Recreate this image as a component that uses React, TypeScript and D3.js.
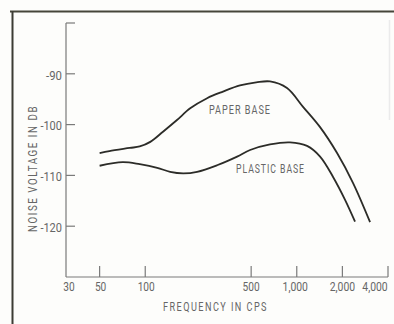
import React from "react";
import * as d3 from "d3";

const paperFreq = [50, 58, 79, 92, 108, 131, 162, 198, 256, 326, 422, 540, 666, 862, 1100, 1425, 1845, 2353, 3046];
const paperDb = [-105.6, -105.2, -104.6, -104.3, -103.4, -101.4, -99.1, -96.8, -94.8, -93.5, -92.3, -91.7, -91.5, -92.8, -96.5, -100.5, -105.6, -111.5, -119.2];
const plasticFreq = [50, 71, 92, 120, 146, 178, 220, 298, 404, 492, 666, 903, 1169, 1425, 1736, 2083, 2424];
const plasticDb = [-108.1, -107.4, -107.8, -108.5, -109.3, -109.6, -109.3, -108.0, -106.3, -105.0, -103.9, -103.5, -104.2, -106.3, -110.3, -114.8, -119.1];

const xTickValues = [30, 50, 100, 500, 1000, 2000, 4000];
const xTickLabels = ["30", "50", "100", "500", "1,000", "2,000", "4,000"];
const yTickValues = [-80, -90, -100, -110, -120];
const yTickLabels = ["", "-90", "-100", "-110", "-120"];

const W = 394;
const H = 324;
const FONT = "Roboto, 'DejaVu Sans', sans-serif";
const TEXT = "#666";
const AXIS = "#7a7a7a";
const INK = "#2c2c28";

// narrow (condensed) text width estimate
const labelWidth = (s: string) =>
  s.split("").reduce((w, c) => w + (c === "-" ? 4.5 : c === "," ? 2.6 : 5.7), 0);

export default function App() {
  const x = d3.scaleLog().domain([30, 4000]).range([66, 388]);
  const y = d3.scaleLinear().domain([-130, -80]).range([277, 23]);
  const line = d3
    .line<[number, number]>()
    .x((d) => x(d[0]))
    .y((d) => y(d[1]))
    .curve(d3.curveCatmullRom.alpha(0.5));
  const paper = line(paperFreq.map((f, i) => [f, paperDb[i]]) as [number, number][]) || "";
  const plastic = line(plasticFreq.map((f, i) => [f, plasticDb[i]]) as [number, number][]) || "";
  const xLabelDx: Record<number, number> = { 30: 3, 50: 1, 100: 1, 500: 0, 1000: -1.5, 2000: 0, 4000: -13 };
  const x0 = x(30);
  const yBottom = y(-130);

  return (
    <svg
      width={W}
      height={H}
      style={{ position: "absolute", left: 0, top: 0, background: "#fdfdfb" }}
      fontFamily={FONT}
    >
      <rect x={0} y={0} width={W} height={H} fill="#fdfdfb" />
      {/* frame */}
      <line x1={10} y1={11.5} x2={W} y2={11.5} stroke="#46463a" strokeWidth={1.8} />
      <line x1={12.5} y1={11} x2={12.5} y2={H} stroke="#3c3c34" strokeWidth={2} />
      <line x1={389.5} y1={20} x2={389.5} y2={120} stroke="#ebebeb" strokeWidth={1.5} />

      {/* y axis */}
      <line x1={x0} y1={y(-80)} x2={x0} y2={yBottom} stroke={AXIS} strokeWidth={1.2} />
      {yTickValues.map((v, i) => (
        <g key={v}>
          <line x1={x0} y1={y(v)} x2={x0 + 9} y2={y(v)} stroke={AXIS} strokeWidth={1.2} />
          {yTickLabels[i] && (
            <text
              x={x0 - 4}
              y={y(v) + 1}
              dy="0.35em"
              textAnchor="end"
              fontSize={13.5}
              fill={TEXT}
              textLength={labelWidth(yTickLabels[i])}
              lengthAdjust="spacingAndGlyphs"
            >
              {yTickLabels[i]}
            </text>
          )}
        </g>
      ))}

      {/* x axis */}
      <line x1={x0} y1={yBottom} x2={x(4000)} y2={yBottom} stroke={AXIS} strokeWidth={1.2} />
      {xTickValues.map((v, i) => (
        <g key={v}>
          {v !== 30 && (
            <line x1={x(v)} y1={yBottom} x2={x(v)} y2={yBottom - 11} stroke={AXIS} strokeWidth={1.2} />
          )}
          <text
            x={x(v) + xLabelDx[v]}
            y={291}
            textAnchor="middle"
            fontSize={13}
            fill={TEXT}
            textLength={labelWidth(xTickLabels[i])}
            lengthAdjust="spacingAndGlyphs"
          >
            {xTickLabels[i]}
          </text>
        </g>
      ))}

      {/* titles */}
      <text
        x={163}
        y={311}
        fontSize={12.5}
        fill={TEXT}
        letterSpacing={2}
        textLength={105}
        lengthAdjust="spacingAndGlyphs"
      >
        FREQUENCY IN CPS
      </text>
      <text
        transform="translate(37,232) rotate(-90)"
        x={0}
        y={0}
        fontSize={12.5}
        fill={TEXT}
        letterSpacing={2}
        textLength={127}
        lengthAdjust="spacingAndGlyphs"
      >
        NOISE VOLTAGE IN DB
      </text>

      {/* curves */}
      <path d={paper} fill="none" stroke={INK} strokeWidth={1.8} />
      <path d={plastic} fill="none" stroke={INK} strokeWidth={1.8} />

      {/* labels */}
      <text
        x={209}
        y={114}
        fontSize={13.5}
        fill={TEXT}
        letterSpacing={1.5}
        textLength={62}
        lengthAdjust="spacingAndGlyphs"
      >
        PAPER BASE
      </text>
      <text
        x={236}
        y={173}
        fontSize={13.5}
        fill={TEXT}
        letterSpacing={1.5}
        textLength={69}
        lengthAdjust="spacingAndGlyphs"
      >
        PLASTIC BASE
      </text>
    </svg>
  );
}
